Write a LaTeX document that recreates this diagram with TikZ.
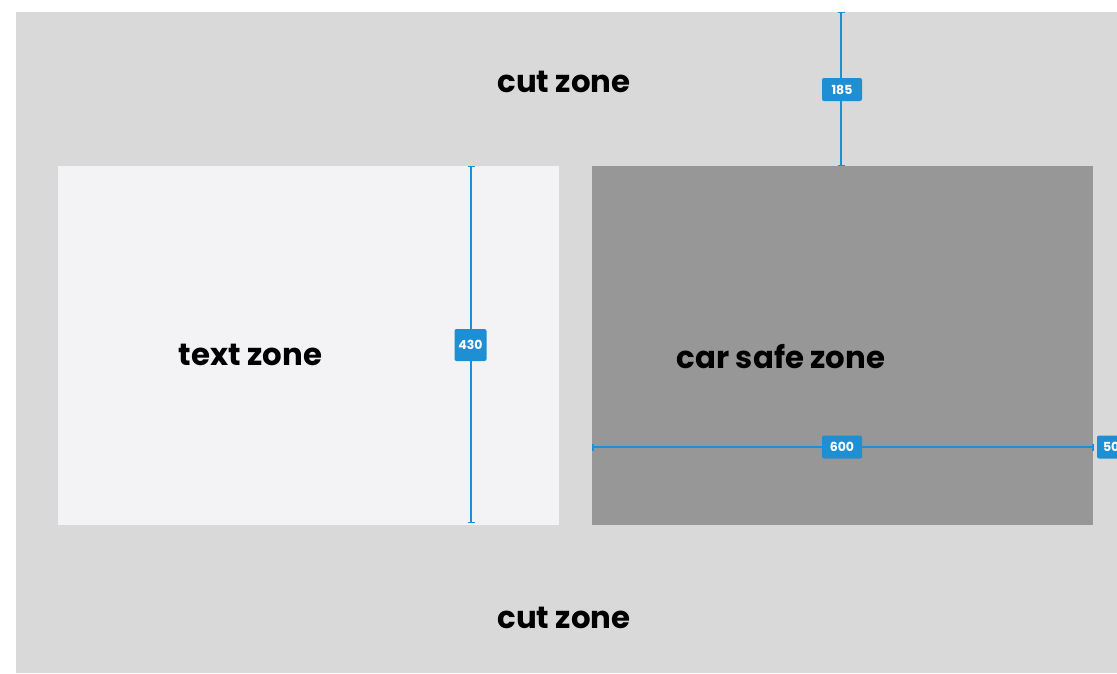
\documentclass[tikz,border=0pt]{standalone}
\usepackage{fontspec}
\setmainfont{Poppins}
\definecolor{cutgray}{HTML}{D9D9D9}
\definecolor{textgray}{HTML}{F3F3F5}
\definecolor{cargray}{HTML}{979797}
\definecolor{dimblue}{HTML}{1E8FD3}
\tikzset{
  zonelabel/.style={font=\fontsize{30.8}{31}\selectfont\bfseries, text=black, inner sep=0pt},
  dimline/.style={draw=dimblue, line width=1.3pt},
  dimtag/.style={fill=dimblue, text=white, rounded corners=2pt, font=\fontsize{12.5}{12.5}\selectfont\bfseries, inner sep=0pt, minimum width=40pt, minimum height=23pt},
}
\begin{document}
\begin{tikzpicture}[x=1pt,y=-1pt]
\useasboundingbox (0,0) rectangle (1117,673);
\begin{scope}
\clip (0,0) rectangle (1117,673);
\fill[cutgray] (16,12) rectangle (1117,673);
\fill[textgray] (58,166) rectangle (559,525);
\fill[cargray] (592,166) rectangle (1093,525);

\node[zonelabel] (cuttop) at (564,82) {cut zone};
\node[zonelabel] (cutbot) at (564,618) {cut zone};
\node[zonelabel] (textz) at (250.5,355) {text zone};
\node[zonelabel] (carz) at (781,357) {car safe zone};

% 185 dimension
\coordinate (d1a) at (841,12.6);
\coordinate (d1b) at (841,165.5);
\draw[dimline] (d1a) -- (d1b);
\draw[dimline] ([xshift=-3.5pt]d1a) -- ([xshift=3.5pt]d1a);
\draw[dimline] ([xshift=-3.5pt]d1b) -- ([xshift=3.5pt]d1b);
\node[dimtag] (t185) at (842,89.5) {185};

% 430 dimension
\coordinate (d2a) at (471,166.5);
\coordinate (d2b) at (471,522.5);
\draw[dimline] (d2a) -- (d2b);
\draw[dimline] ([xshift=-3.5pt]d2a) -- ([xshift=3.5pt]d2a);
\draw[dimline] ([xshift=-3.5pt]d2b) -- ([xshift=3.5pt]d2b);
\node[dimtag, minimum width=32pt, minimum height=32pt] (t430) at (470.5,345) {430};

% 600 dimension
\coordinate (d3a) at (593,447);
\coordinate (d3b) at (1093,447);
\draw[dimline] (d3a) -- (d3b);
\draw[dimline] ([yshift=-3.5pt]d3a) -- ([yshift=3.5pt]d3a);
\draw[dimline] ([yshift=-3.5pt]d3b) -- ([yshift=3.5pt]d3b);
\node[dimtag] (t600) at (842,447) {600};

% 50 tag (clipped)
\node[dimtag, text width=34pt, align=left, inner xsep=6pt, minimum width=0pt] (t50) at (1120,447) {50};
\end{scope}
\end{tikzpicture}
\end{document}
